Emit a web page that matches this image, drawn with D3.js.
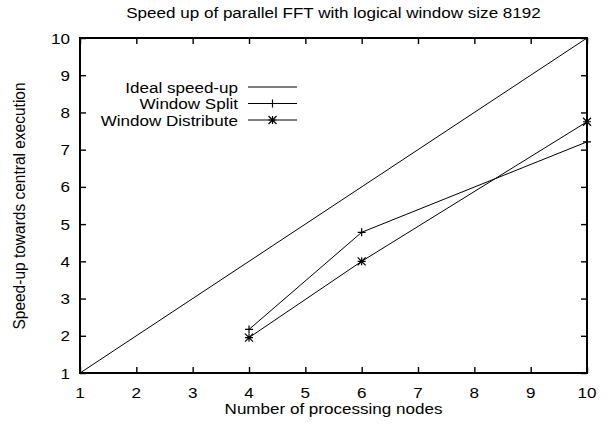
<!DOCTYPE html>
<html>
<head>
<meta charset="utf-8">
<script src="https://cdn.jsdelivr.net/npm/d3@7"></script>
<style>
  body { margin: 0; background: #fff; }
  text { font-family: "Liberation Sans", Arial, sans-serif; fill: #000; }
</style>
</head>
<body>
<div id="chart"></div>
<script>
// data
let nodes = [4, 6, 10]
let splitValues = [2.17, 4.78, 7.21]
let distributeValues = [1.95, 4.0, 7.75]
let idealNodes = [1, 10]
let xTicks = [1, 2, 3, 4, 5, 6, 7, 8, 9, 10]
let yTicks = [1, 2, 3, 4, 5, 6, 7, 8, 9, 10]

let width = 610, height = 428
let margin = { left: 80, right: 23, top: 38, bottom: 55 }
let fontSize = 15.5
let stretch = 1.1 //原图文字横向略宽

let svg = d3.select("#chart").append("svg")
    .attr("width", width)
    .attr("height", height)

let x = d3.scaleLinear().domain([1, 10]).range([margin.left, width - margin.right])
let y = d3.scaleLinear().domain([1, 10]).range([height - margin.bottom, margin.top])

//带横向拉伸的文字 (竖排时拉伸的是字的宽度方向)
function label(g, tx, ty, str, anchor, rotate) {
    let tf = `translate(${tx},${ty})` + (rotate ? ` rotate(${rotate}) scale(1,${stretch})` : ` scale(${stretch},1)`)
    return g.append("text")
        .attr("transform", tf)
        .attr("text-anchor", anchor)
        .attr("font-size", fontSize)
        .text(str)
}

//刻度 (朝内, 四边都有)
let tickLen = 6
let axisB = d3.axisBottom(x).tickValues(xTicks).tickSize(-tickLen).tickFormat("")
let axisT = d3.axisTop(x).tickValues(xTicks).tickSize(-tickLen).tickFormat("")
let axisL = d3.axisLeft(y).tickValues(yTicks).tickSize(-tickLen).tickFormat("")
let axisR = d3.axisRight(y).tickValues(yTicks).tickSize(-tickLen).tickFormat("")

function styleAxis(g) {
    g.select(".domain").remove()
    g.selectAll(".tick line").attr("stroke", "#000").attr("stroke-width", 1.4)
}
svg.append("g").attr("transform", `translate(0,${y(1)})`).call(axisB).call(styleAxis)
svg.append("g").attr("transform", `translate(0,${y(10)})`).call(axisT).call(styleAxis)
svg.append("g").attr("transform", `translate(${x(1)},0)`).call(axisL).call(styleAxis)
svg.append("g").attr("transform", `translate(${x(10)},0)`).call(axisR).call(styleAxis)

//刻度文字
let tickText = svg.append("g")
xTicks.forEach((t) => label(tickText, x(t), 398, t, "middle"))
yTicks.forEach((t) => label(tickText, 70, y(t) + 5.5, t, "end"))

//边框
svg.append("rect")
    .attr("x", x(1)).attr("y", y(10))
    .attr("width", x(10) - x(1)).attr("height", y(1) - y(10))
    .attr("fill", "none").attr("stroke", "#000").attr("stroke-width", 2)

let line = d3.line().x((d) => x(d[0])).y((d) => y(d[1]))

//理想加速比
svg.append("path")
    .datum(idealNodes.map((n) => [n, n]))
    .attr("d", line).attr("fill", "none").attr("stroke", "#000").attr("stroke-width", 1)

let splitData = nodes.map((n, i) => [n, splitValues[i]])
let distData = nodes.map((n, i) => [n, distributeValues[i]])

svg.append("path").datum(splitData).attr("d", line)
    .attr("fill", "none").attr("stroke", "#000").attr("stroke-width", 1)
svg.append("path").datum(distData).attr("d", line)
    .attr("fill", "none").attr("stroke", "#000").attr("stroke-width", 1)

//点的符号
function plus(g, cx, cy) {
    let s = 4
    g.append("path")
        .attr("d", `M${cx - s},${cy}H${cx + s}M${cx},${cy - s}V${cy + s}`)
        .attr("stroke", "#000").attr("stroke-width", 1.2).attr("fill", "none")
}
function star(g, cx, cy) {
    let s = 4
    g.append("path")
        .attr("d", `M${cx - s},${cy}H${cx + s}M${cx},${cy - s}V${cy + s}M${cx - s},${cy - s}L${cx + s},${cy + s}M${cx - s},${cy + s}L${cx + s},${cy - s}`)
        .attr("stroke", "#000").attr("stroke-width", 1.2).attr("fill", "none")
}
let marks = svg.append("g")
splitData.forEach((d) => plus(marks, x(d[0]), y(d[1])))
distData.forEach((d) => star(marks, x(d[0]), y(d[1])))

//图例
let legend = svg.append("g")
let legendItems = ["Ideal speed-up", "Window Split", "Window Distribute"]
legendItems.forEach((name, i) => {
    let ly = 87 + i * 16.5
    label(legend, 238, ly + 5.5, name, "end")
    legend.append("line")
        .attr("x1", 248).attr("x2", 297).attr("y1", ly).attr("y2", ly)
        .attr("stroke", "#000").attr("stroke-width", 1)
    if (i == 1) plus(legend, 272.5, ly)
    if (i == 2) star(legend, 272.5, ly)
})

//标题和轴标题
let cx = (x(1) + x(10)) / 2
label(svg, cx, 18, "Speed up of parallel FFT with logical window size 8192", "middle")
label(svg, cx, 414, "Number of processing nodes", "middle")
label(svg, 25, 206, "Speed-up towards central execution", "middle", -90)
</script>
</body>
</html>
